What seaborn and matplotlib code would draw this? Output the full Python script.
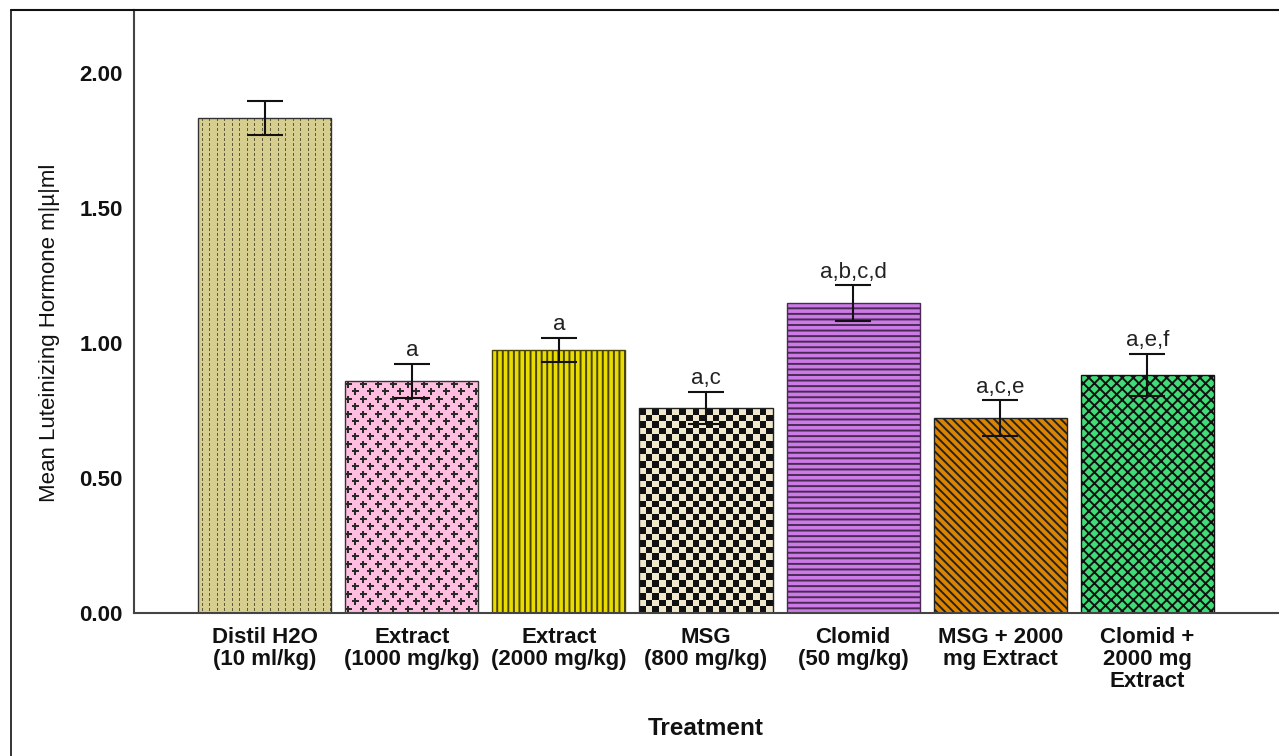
import numpy as np
import pandas as pd
import matplotlib
matplotlib.use("Agg")
import matplotlib.pyplot as plt
import seaborn as sns
from matplotlib.lines import Line2D

# ---- data ----
categories = ["Distil H2O\n(10 ml/kg)", "Extract\n(1000 mg/kg)", "Extract\n(2000 mg/kg)",
              "MSG\n(800 mg/kg)", "Clomid\n(50 mg/kg)", "MSG + 2000\nmg Extract",
              "Clomid +\n2000 mg\nExtract"]
means = [1.833, 0.859, 0.974, 0.759, 1.148, 0.722, 0.881]
errors = [0.062, 0.064, 0.045, 0.060, 0.065, 0.065, 0.078]
letters = ["", "a", "a", "a,c", "a,b,c,d", "a,c,e", "a,e,f"]
yticks = [0.0, 0.5, 1.0, 1.5, 2.0]

colors = ["#d6ce8e", "#ffbde0", "#e8dc00", "#f0e8cc", "#cc7ae6", "#dc8400", "#40dc78"]
hatches = [None, None, "|||", None, "---", "\\\\\\\\", "xxx"]
edgecols = ["#333333", "#333333", "#4a4400", "#222222", "#4a2a55", "#222222", "#111111"]

sns.set_theme(style="white")
plt.rcParams["font.family"] = ["Liberation Sans", "DejaVu Sans"]
plt.rcParams["hatch.linewidth"] = 1.4

W, H = 1279, 756
fig = plt.figure(figsize=(W / 100, H / 100), dpi=100)
ax = fig.add_axes([134 / W, 143 / H, 1144 / W, 603 / H])

df = pd.DataFrame({"Treatment": categories, "Mean": means})
sns.barplot(data=df, x="Treatment", y="Mean", hue="Treatment", palette=colors,
            legend=False, width=0.905, ax=ax, errorbar=None,
            edgecolor="#222222", linewidth=1.0, saturation=1)

ax.set_xlim(-0.888, 6.888)
ax.set_ylim(0, 2.233)

patches = list(ax.patches)
for i, p in enumerate(patches):
    p.set_edgecolor(edgecols[i])
    if hatches[i]:
        p.set_hatch(hatches[i])

def bar_pixels(p):
    x0, y0 = p.get_x(), p.get_y()
    x1, y1 = x0 + p.get_width(), y0 + p.get_height()
    (px0, py0), (px1, py1) = ax.transData.transform([(x0, y0), (x1, y1)])
    return (x0, x1, y0, y1), int(round(px1 - px0)), int(round(py1 - py0))

def rgb(c):
    return np.array(matplotlib.colors.to_rgb(c))

def put_image(p, img):
    ext, _, _ = bar_pixels(p)
    im = ax.imshow(img, extent=ext, origin="upper", interpolation="nearest",
                   aspect="auto", zorder=0.9)
    im.set_clip_path(p)
    p.set_facecolor("none")

# bar 0: dotted vertical lines
p = patches[0]
_, w, h = bar_pixels(p)
img = np.ones((h, w, 3)) * rgb(colors[0])
dot = rgb("#5e5a3a")
for cx in np.arange(4, w, 7.5):
    cx = int(cx)
    for yy in range(0, h, 5):
        img[yy:yy + 3, cx:cx + 1] = dot
put_image(p, img)

# bar 1: staggered plus signs
p = patches[1]
_, w, h = bar_pixels(p)
img = np.ones((h, w, 3)) * rgb(colors[1])
dark = rgb("#2a2a2a")
for r, yy in enumerate(np.arange(3, h, 7.5)):
    off = 0 if r % 2 == 0 else 7.5
    for xx in np.arange(3 + off, w, 15):
        cx, cy = int(xx), int(yy)
        img[max(cy - 3, 0):cy + 4, max(cx - 1, 0):cx + 1] = dark
        img[max(cy - 1, 0):cy + 1, max(cx - 3, 0):cx + 4] = dark
put_image(p, img)

# bar 3: checkerboard
p = patches[3]
_, w, h = bar_pixels(p)
nx, ny = max(1, round(w / 6.7)), max(1, round(h / 6.7))
ii, jj = np.meshgrid(np.arange(nx), np.arange(ny))
chk = ((ii + jj) % 2 == 0)
img = np.where(chk[..., None], rgb("#111111"), rgb(colors[3]))
put_image(p, img)

ax.set_xlim(-0.888, 6.888)
ax.set_ylim(0, 2.233)

# error bars
xs = np.arange(len(categories))
ax.errorbar(xs, means, yerr=errors, fmt="none", ecolor="#111111",
            elinewidth=1.5, capsize=13.3, capthick=1.5, zorder=3)

# letters
for x, m, e, t in zip(xs, means, errors, letters):
    if t:
        ax.annotate(t, (x, m + e), xytext=(0, 2), textcoords="offset points",
                    ha="center", va="bottom", fontsize=16, color="#222222")

# axes styling
ax.set_yticks(yticks)
ax.set_yticklabels([f"{v:.2f}" for v in yticks], fontsize=16, fontweight="bold")
ax.set_xticks(xs)
ax.set_xticklabels(categories, fontsize=16, fontweight="bold", linespacing=1.06)
ax.tick_params(axis="both", length=0, colors="#111111")
ax.tick_params(axis="y", pad=8)
ax.tick_params(axis="x", pad=10)
ax.set_xlabel("Treatment", fontsize=17.5, fontweight="bold", labelpad=18, color="#111111")
ax.set_ylabel("")
for s in ["left", "bottom"]:
    ax.spines[s].set_color("#444444")
    ax.spines[s].set_linewidth(1.5)
ax.spines["top"].set_color("#111111")
ax.spines["top"].set_linewidth(1.5)
ax.spines["right"].set_visible(False)

fig.text(50 / W, 1 - 333 / H, "Mean Luteinizing Hormone m|µ|ml", rotation=90,
         ha="center", va="center", fontsize=16, color="#111111")

# outer frame
fig.add_artist(Line2D([11 / W, 11 / W], [0, 1 - 10 / H], transform=fig.transFigure,
                      color="#111111", lw=1.2))
fig.add_artist(Line2D([11 / W, 134 / W], [1 - 10 / H, 1 - 10 / H], transform=fig.transFigure,
                      color="#111111", lw=1.5))

fig.savefig("out.png", dpi=100)
